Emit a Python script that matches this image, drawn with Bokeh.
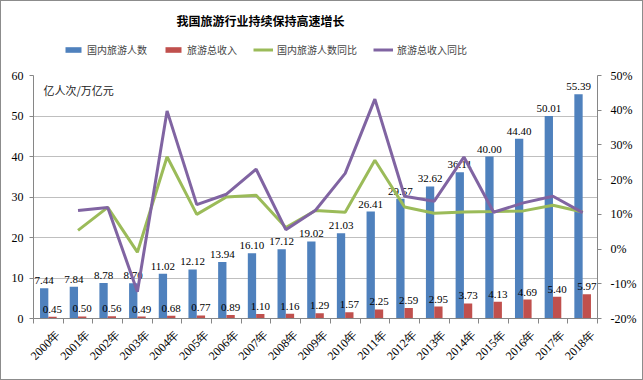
import math
import numpy as np
from bokeh.plotting import figure
from bokeh.layouts import column
from bokeh.models import (Range1d, LinearAxis, FixedTicker, PrintfTickFormatter, ColumnDataSource,
                          LabelSet, Label, Legend, LegendItem)
from bokeh.embed import file_html
from bokeh.resources import INLINE

years = ["2000年", "2001年", "2002年", "2003年", "2004年", "2005年", "2006年", "2007年",
         "2008年", "2009年", "2010年", "2011年", "2012年", "2013年", "2014年", "2015年",
         "2016年", "2017年", "2018年"]
tourists = [7.44, 7.84, 8.78, 8.70, 11.02, 12.12, 13.94, 16.10, 17.12, 19.02, 21.03,
            26.41, 29.57, 32.62, 36.11, 40.00, 44.40, 50.01, 55.39]
revenue = [0.45, 0.50, 0.56, 0.49, 0.68, 0.77, 0.89, 1.10, 1.16, 1.29, 1.57,
           2.25, 2.59, 2.95, 3.73, 4.13, 4.69, 5.40, 5.97]
tourist_yoy = [None, 5.4, 12.0, -0.9, 26.6, 10.0, 15.0, 15.5, 6.2, 11.1, 10.6,
               25.6, 12.1, 10.3, 10.7, 10.8, 11.0, 12.6, 10.7]
revenue_yoy = [None, 11.1, 12.0, -12.3, 39.8, 12.8, 15.8, 23.0, 5.6, 11.2, 21.8,
               43.2, 15.2, 13.8, 26.5, 10.6, 13.3, 15.2, 10.5]
left_ticks = [0, 10, 20, 30, 40, 50, 60]
right_ticks = [-20, -10, 0, 10, 20, 30, 40, 50]
series_names = ["国内旅游人数", "旅游总收入", "国内旅游人数同比", "旅游总收入同比"]
title_text = "我国旅游行业持续保持高速增长"
unit_text = "亿人次/万亿元"

BLUE, RED, GREEN, PURPLE = "#4F81BD", "#C0504D", "#9BBB59", "#8064A2"
SERIF = "Liberation Serif"
CJK = "Noto Sans CJK SC"
AXIS_C = "#868686"
W = 641
HEAD_H = 67
MAIN_H = 311

idx = np.arange(len(years))
centers = idx + 0.5
src = ColumnDataSource(dict(
    xb=centers - 0.14, xr=centers + 0.14, xc=centers,
    tourists=tourists, revenue=revenue,
    tyoy=np.array(tourist_yoy, dtype=float), ryoy=np.array(revenue_yoy, dtype=float),
    tlab=[f"{v:.2f}" for v in tourists], rlab=[f"{v:.2f}" for v in revenue],
))

# ---------- header (title + legend) ----------
h = figure(width=W, height=HEAD_H, output_backend="svg", toolbar_location=None,
           x_range=Range1d(0, 1), y_range=Range1d(0, 1), x_axis_type=None, y_axis_type=None,
           min_border=0)
h.outline_line_color = None
h.xgrid.grid_line_color = None
h.ygrid.grid_line_color = None
h.background_fill_color = "white"
h.border_fill_color = "white"
# zero-size stand-ins that only carry the legend styles
stand_in = ColumnDataSource(dict(x=[0], y=[0], top=[0]))
hb = h.vbar(x="x", top="top", width=0.01, source=stand_in, fill_color=BLUE, line_color=None)
hr = h.vbar(x="x", top="top", width=0.01, source=stand_in, fill_color=RED, line_color=None)
hg = h.line(x="x", y="y", source=stand_in, line_color=GREEN, line_width=3)
hp = h.line(x="x", y="y", source=stand_in, line_color=PURPLE, line_width=3)

h.add_layout(Label(x=227, y=48, x_units="screen", y_units="screen", text=title_text,
                   text_font=CJK, text_font_size="12px", text_font_style="bold",
                   text_align="center", text_baseline="middle", text_color="black"))
legend = Legend(items=[LegendItem(label=series_names[0], renderers=[hb]),
                       LegendItem(label=series_names[1], renderers=[hr]),
                       LegendItem(label=series_names[2], renderers=[hg]),
                       LegendItem(label=series_names[3], renderers=[hp])],
                orientation="horizontal", location=(30, 11), padding=0, margin=0,
                spacing=16, label_standoff=4, glyph_width=20, glyph_height=7,
                label_height=12, label_text_font=CJK, label_text_font_size="10px",
                border_line_color=None, background_fill_alpha=0)
h.add_layout(legend, "center")

# ---------- main chart ----------
p = figure(width=W, height=MAIN_H, output_backend="svg", toolbar_location=None,
           x_range=Range1d(0, len(years)), y_range=Range1d(0, 60),
           min_border_left=32, min_border_right=45, min_border_top=7, min_border_bottom=61)
p.extra_y_ranges = {"pct": Range1d(-20, 50)}
p.outline_line_color = None
p.background_fill_color = "white"
p.border_fill_color = "white"

xa = p.xaxis[0]
label_pos = centers + 0.33
xa.ticker = FixedTicker(ticks=list(label_pos), minor_ticks=list(range(len(years) + 1)))
xa.major_label_overrides = {float(c): y for c, y in zip(label_pos, years)}
xa.major_label_orientation = math.pi / 4
xa.major_tick_out = 0
xa.major_tick_in = 0
xa.minor_tick_out = 5
xa.minor_tick_in = 0
xa.minor_tick_line_color = AXIS_C
xa.axis_line_color = AXIS_C
xa.major_label_standoff = 9
xa.major_label_text_font = SERIF
xa.major_label_text_font_size = "12px"
xa.major_label_text_color = "black"

ya = p.yaxis[0]
ya.ticker = FixedTicker(ticks=left_ticks)
ya.axis_line_color = AXIS_C
ya.major_tick_line_color = AXIS_C
ya.major_tick_out = 4
ya.major_tick_in = 0
ya.minor_tick_line_color = None
ya.major_label_standoff = 6
ya.major_label_text_font = SERIF
ya.major_label_text_font_size = "12px"
ya.major_label_text_color = "black"

ra = LinearAxis(y_range_name="pct", ticker=FixedTicker(ticks=right_ticks),
                formatter=PrintfTickFormatter(format="%d%%"))
ra.axis_line_color = AXIS_C
ra.major_tick_line_color = AXIS_C
ra.major_tick_out = 4
ra.major_tick_in = 0
ra.minor_tick_line_color = None
ra.major_label_standoff = 9
ra.major_label_text_font = SERIF
ra.major_label_text_font_size = "12px"
ra.major_label_text_color = "black"
p.add_layout(ra, "right")

p.xgrid.grid_line_color = None
p.ygrid.ticker = FixedTicker(ticks=left_ticks)
p.ygrid.grid_line_color = "#bfbfbf"

rb = p.vbar(x="xb", top="tourists", width=0.28, source=src, fill_color=BLUE, line_color=None)
rr = p.vbar(x="xr", top="revenue", width=0.28, source=src, fill_color=RED, line_color=None)

tl = LabelSet(x="xb", y="tourists", text="tlab", source=src, text_align="center",
              text_baseline="bottom", y_offset=4, text_font=SERIF, text_font_size="11px",
              text_color="black")
rl = LabelSet(x="xr", y="revenue", text="rlab", source=src, text_align="center",
              text_baseline="bottom", y_offset=4, text_font=SERIF, text_font_size="11px",
              text_color="black")
p.add_layout(tl)
p.add_layout(rl)

lg = p.line(x="xc", y="tyoy", source=src, y_range_name="pct", line_color=GREEN, line_width=3)
lp = p.line(x="xc", y="ryoy", source=src, y_range_name="pct", line_color=PURPLE, line_width=3)
lg.level = "overlay"
lp.level = "overlay"

p.add_layout(Label(x=10, y=229, x_units="screen", y_units="screen", text=unit_text,
                   text_font=CJK, text_font_size="11px", text_baseline="middle",
                   text_color="#222222"))

layout = column(h, p, spacing=0, styles={"border": "1px solid #8c8c8c"})
open("out.html", "w").write(file_html(layout, INLINE))
